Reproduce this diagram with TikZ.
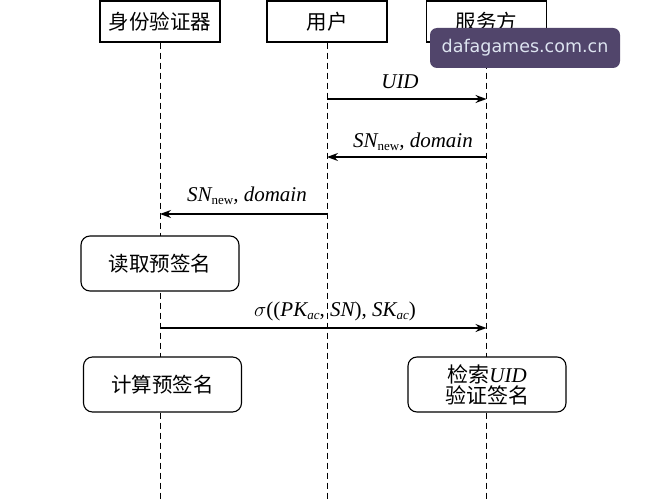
\documentclass[tikz,border=0pt]{standalone}
\usepackage{fontspec}
\setmainfont{Liberation Serif}
\newfontfamily\cjk{Noto Sans CJK SC}
\newfontfamily\wmfont{DejaVu Sans}
\usetikzlibrary{arrows.meta}
\definecolor{wmbg}{HTML}{51456B}
\definecolor{wmfg}{HTML}{DDE4F0}
\begin{document}
\begin{tikzpicture}[x=1pt,y=-1pt,
  actor/.style={draw, line width=1.1pt, minimum width=120pt, minimum height=41pt, inner sep=0pt, font=\cjk\fontsize{20.5}{24}\selectfont},
  proc/.style={draw, line width=1.1pt, rounded corners=9pt, minimum width=158pt, minimum height=55pt, inner sep=0pt, align=center, font=\cjk\fontsize{20.5}{24}\selectfont},
  life/.style={line width=1pt, dash pattern=on 6pt off 4pt},
  msg/.style={line width=1.1pt, -{Stealth[length=11pt,width=8pt]}},
  lbl/.style={font=\fontsize{21}{24}\selectfont\itshape, inner sep=0pt, anchor=base}
]
\useasboundingbox (0,0) rectangle (647,500);
\fill[white] (0,0) rectangle (647,500);

% actors
\node[actor] (A) at (160,21.5) {身份验证器};
\node[actor] (U) at (327,21.5) {用户};
\node[actor] (S) at (486.5,21.5) {服务方};

% lifeline ends
\coordinate (Ae) at (160,500);
\coordinate (Ue) at (327,500);
\coordinate (Se) at (486.5,500);
\draw[life] (A.south) -- (Ae);
\draw[life] (U.south) -- (Ue);
\draw[life] (S.south) -- (Se);

% process boxes
\node[proc, fill=white] (R) at (160,263.5) {读取预签名};
\node[proc, fill=white] (C) at (162.5,384.5) {计算预签名};
\node[proc, fill=white, font=\fontsize{21}{24}\selectfont, minimum width=158pt] (V) at (487,384.5) {{\cjk 检索}\textit{UID}\\[-3pt]{\cjk 验证签名}};

% message points
\coordinate (u1) at (327,99);   \coordinate (s1) at (486.5,99);
\coordinate (s2) at (486.5,157);\coordinate (u2) at (327,157);
\coordinate (u3) at (327,214);  \coordinate (a3) at (160,214);
\coordinate (a4) at (160,328);  \coordinate (s4) at (486.5,328);

\draw[msg] (u1) -- (s1);
\draw[msg] (s2) -- (u2);
\draw[msg] (u3) -- (a3);
\draw[msg] (a4) -- (s4);

\node[lbl] (l1) at (400,89) {UID};
\node[lbl] (l2) at (413,147) {SN{\upshape\fontsize{13}{14}\selectfont\raisebox{-3.5pt}{new}}, domain};
\node[lbl] (l3) at (247,201) {SN{\upshape\fontsize{13}{14}\selectfont\raisebox{-3.5pt}{new}}, domain};
\node[lbl] (l4) at (335,316) {$\sigma${\upshape((}PK{\fontsize{13}{14}\selectfont\raisebox{-3.5pt}{ac}}{\upshape,} SN{\upshape),} SK{\fontsize{13}{14}\selectfont\raisebox{-3.5pt}{ac}}{\upshape)}};

% watermark
\node[fill=wmbg, rounded corners=7pt, minimum width=190pt, minimum height=40pt, inner sep=0pt,
      text=wmfg, font=\wmfont\fontsize{17.5}{20}\selectfont] (W) at (525,48) {dafagames.com.cn};
\end{tikzpicture}
\end{document}
